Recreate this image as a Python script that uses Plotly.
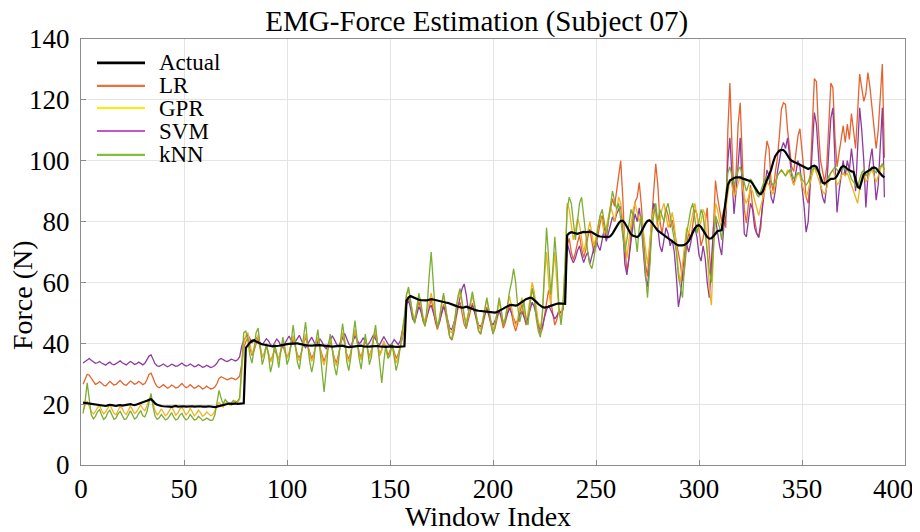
import plotly.graph_objects as go

# ---------------- data ----------------
actual = [
    20.5,20.4,20.3,20.2,20.0,19.8,19.7,19.6,19.5,19.6,
    19.5,19.4,19.6,19.8,19.7,19.5,19.4,19.6,19.7,19.5,
    19.6,19.8,19.9,20.0,19.8,19.7,19.9,20.1,20.3,20.5,
    20.8,21.1,21.4,21.6,21.0,20.2,19.8,19.5,19.4,19.3,
    19.3,19.4,19.2,19.1,19.3,19.4,19.2,19.3,19.4,19.3,
    19.2,19.3,19.4,19.3,19.2,19.3,19.4,19.3,19.2,19.1,
    19.2,19.3,19.2,19.1,19.0,19.2,19.4,19.6,19.8,20.0,
    20.1,20.2,20.1,20.2,20.2,20.1,20.2,20.2,20.3,
    38.5,39.5,40.2,40.8,41.0,40.6,40.2,39.9,39.7,39.5,39.3,
    39.2,39.1,39.0,39.0,39.1,39.2,39.3,39.5,39.6,39.7,
    39.8,39.9,40.0,40.1,40.0,39.8,39.6,39.5,39.4,39.3,
    39.2,39.2,39.3,39.4,39.5,39.4,39.3,39.2,39.0,38.9,
    38.8,38.9,39.0,39.1,39.2,39.3,39.2,39.0,38.8,38.7,
    38.8,38.9,39.1,39.2,39.3,39.2,39.0,38.9,38.8,38.9,
    39.0,39.1,39.2,39.1,39.0,38.9,38.8,38.8,38.9,39.0,
    39.0,38.9,38.8,38.8,38.9,38.9,39.0,
    54.0,55.0,55.5,55.2,54.8,54.5,54.3,54.2,54.1,54.0,54.1,54.3,54.5,
    54.4,54.2,54.0,53.8,53.6,53.5,53.4,53.3,53.1,52.9,
    52.6,52.3,52.0,51.8,51.7,51.8,52.0,51.8,51.5,51.2,
    51.0,50.8,50.7,50.6,50.5,50.4,50.3,50.2,50.1,50.0,
    50.1,50.3,50.6,51.0,51.4,51.8,52.2,52.5,52.6,52.5,
    52.4,52.6,53.0,53.5,54.0,54.5,54.8,55.0,54.8,54.3,
    53.6,52.9,52.3,51.9,51.7,51.8,52.0,52.3,52.6,52.8,
    53.0,53.1,53.0,52.9,53.0,
    75.5,76.2,76.5,76.4,76.2,76.0,76.2,76.4,76.6,76.5,76.6,76.7,76.5,76.0,75.6,
    75.3,75.1,75.0,74.9,74.8,74.9,75.2,76.0,77.2,78.5,
    79.5,80.2,80.3,79.5,78.2,76.8,75.8,75.3,75.0,74.9,
    75.4,76.5,78.0,79.3,80.2,80.4,79.8,78.8,77.8,77.0,
    76.5,76.0,75.4,74.8,74.3,74.0,73.6,73.0,72.5,72.2,
    72.1,72.2,72.4,72.8,73.6,75.0,76.5,77.8,78.6,78.8,
    78.2,77.0,75.8,74.9,74.4,74.5,75.2,76.2,76.9,77.0,77.2,
    82.0,88.0,92.0,93.5,94.0,94.3,94.5,94.6,94.5,
    94.2,94.0,93.8,93.5,93.3,92.5,91.5,90.2,89.3,89.0,
    90.0,92.0,93.5,95.0,97.0,99.5,101.5,102.5,103.3,103.6,
    103.5,102.8,101.5,100.6,100.0,99.6,99.3,99.0,98.7,98.3,
    97.9,97.5,97.3,97.6,98.2,98.4,98.0,96.5,94.5,92.8,
    92.5,93.0,93.7,94.0,94.0,94.2,95.0,96.5,97.8,98.3,
    98.0,97.3,96.8,96.5,96.3,94.0,91.5,91.0,93.5,95.6,
    96.2,96.5,97.0,97.5,97.8,97.5,96.8,95.8,95.0,94.5,
]

lr = [
    26.5,28.0,29.8,29.5,28.5,27.2,26.5,26.8,27.4,26.9,
    26.2,26.0,26.8,27.5,26.9,26.3,26.5,27.2,27.8,27.0,
    26.4,26.2,27.0,27.6,27.1,26.5,26.8,27.5,27.0,26.4,
    26.8,28.0,29.8,30.2,28.6,26.8,25.8,25.4,25.9,26.4,
    25.8,25.2,25.6,26.3,25.9,25.3,25.5,26.2,26.8,26.0,
    25.4,25.7,26.4,25.8,25.2,25.5,26.1,25.6,25.0,25.3,
    25.9,25.4,25.0,25.2,25.6,26.8,28.4,29.0,28.6,28.2,
    28.0,28.3,28.6,28.4,28.0,28.5,29.2,33.0,38.5,
    40.5,41.8,38.5,36.0,37.5,39.8,41.0,38.2,35.5,36.8,38.9,
    36.5,34.2,35.8,38.0,36.2,35.0,37.4,39.5,37.0,35.3,
    36.8,39.2,41.5,39.0,36.4,35.2,37.0,39.8,42.0,39.4,
    36.8,35.0,36.6,39.0,41.2,38.5,35.8,34.0,36.2,38.8,
    40.6,38.0,35.2,33.5,36.0,39.4,42.5,40.0,36.5,34.8,
    37.2,40.5,43.8,40.6,37.0,35.4,38.2,41.0,38.4,35.6,
    37.8,41.2,43.0,39.5,36.2,38.0,40.4,38.2,36.0,37.5,
    39.8,37.2,35.0,36.5,38.8,41.5,45.0,
    52.5,55.5,53.0,49.0,47.5,50.5,53.8,51.0,47.2,45.8,48.5,52.0,54.5,
    51.2,47.0,44.5,46.8,50.2,52.8,49.5,45.0,42.0,41.0,
    43.5,47.8,51.5,53.5,50.0,46.2,44.8,47.5,51.0,53.2,
    50.5,47.0,44.2,43.0,45.8,49.5,52.0,49.0,45.5,43.2,
    45.0,48.5,51.0,48.2,45.0,46.8,50.5,53.0,49.8,46.2,
    44.0,46.5,50.2,52.8,49.5,46.0,48.5,53.5,58.0,55.0,
    49.5,45.5,43.0,44.8,49.0,53.5,57.5,54.0,49.5,46.0,
    47.8,51.0,50.0,52.0,55.0,
    72.0,74.5,70.0,67.5,69.8,73.0,75.5,71.0,68.2,70.5,
    74.8,77.5,73.0,69.5,71.8,76.0,79.5,82.0,78.5,74.0,
    80.5,84.0,87.5,85.0,90.0,95.5,100.0,88.0,72.0,63.5,
    68.0,76.5,82.0,86.5,88.0,92.8,85.5,76.0,66.0,62.0,
    70.5,82.0,90.5,99.0,92.0,80.5,76.0,80.0,84.5,82.0,
    78.0,80.5,77.0,74.0,70.5,66.0,60.5,64.5,72.0,76.5,
    74.0,78.5,84.0,82.5,76.5,72.0,74.5,80.0,84.5,70.0,
    62.0,78.0,93.5,88.0,84.0,80.0,
    84.0,78.0,110.0,125.5,105.0,89.0,96.0,112.0,119.0,100.0,
    84.0,79.5,86.0,92.0,85.0,80.0,76.5,74.8,78.0,88.0,
    100.0,106.5,104.0,93.0,90.0,96.0,100.5,108.0,117.0,119.0,
    118.5,110.0,104.0,98.0,96.5,102.0,108.0,110.5,104.0,96.0,
    88.0,86.0,95.0,112.0,127.0,126.0,110.0,100.0,96.0,93.0,
    98.0,112.0,125.5,124.0,108.0,98.0,103.0,108.0,111.5,106.0,
    112.0,107.0,115.5,110.0,104.0,116.0,128.5,124.0,119.5,122.0,
    129.0,124.0,116.5,111.0,104.0,110.0,122.0,131.8,101.0,
]

gpr = [
    18.0,19.5,21.0,19.2,17.5,16.8,17.6,18.8,19.5,18.0,
    16.8,17.5,18.6,19.8,18.4,17.0,16.5,17.8,19.2,18.6,
    17.2,16.6,17.9,19.4,18.2,16.9,17.5,18.8,19.8,18.5,
    17.8,19.5,21.5,22.5,20.0,17.8,16.5,17.2,18.5,17.4,
    16.2,16.8,18.2,19.2,17.8,16.4,17.0,18.4,19.0,17.6,
    16.5,17.2,18.6,17.5,16.2,16.8,18.0,17.2,16.0,16.5,
    17.4,16.8,16.2,16.6,17.8,19.5,20.5,19.8,19.0,20.2,
    20.8,20.2,19.6,20.5,21.0,20.6,21.5,30.0,40.0,
    42.5,43.5,40.0,36.5,38.5,41.0,42.8,39.0,35.2,36.8,39.5,
    37.0,33.8,35.5,39.0,36.8,34.5,37.8,40.5,38.0,35.0,
    36.5,40.2,42.5,39.5,35.8,34.2,37.5,40.8,43.0,39.8,
    36.2,34.0,36.0,39.8,42.0,38.6,35.0,32.8,35.8,39.2,
    41.5,38.2,34.5,32.5,35.5,40.0,43.5,40.8,36.0,33.8,
    36.8,41.0,44.5,41.0,36.5,34.5,38.0,41.8,38.6,35.0,
    37.5,41.8,44.0,40.0,35.8,37.6,40.8,38.0,35.2,36.8,
    39.5,36.5,33.5,35.5,38.5,42.5,47.0,
    56.0,57.5,54.0,50.0,48.0,51.5,55.5,53.0,49.0,47.0,50.5,54.0,56.5,
    53.0,48.5,46.0,48.5,52.5,55.5,52.0,47.0,44.0,43.5,
    46.0,50.5,54.5,57.0,53.5,49.0,47.0,50.0,53.5,55.5,
    52.5,48.5,45.5,44.5,47.5,51.5,54.5,51.0,47.0,44.5,
    46.5,50.5,53.5,50.5,46.5,48.5,52.5,55.5,52.0,48.0,
    45.5,48.0,52.0,55.0,51.5,47.5,50.0,55.5,60.0,57.0,
    51.0,47.0,45.0,50.0,62.0,70.0,60.0,52.0,62.0,70.0,
    60.0,50.0,48.0,54.0,66.0,
    86.0,84.0,78.0,74.0,77.0,81.0,79.0,74.0,70.0,73.0,
    77.0,80.0,76.0,72.0,75.0,79.0,82.0,80.0,76.0,78.0,
    82.0,85.0,83.0,80.0,84.0,88.0,86.0,80.0,72.0,68.0,
    74.0,80.0,84.0,86.0,83.0,80.0,82.0,76.0,70.0,66.0,
    72.0,80.0,84.0,82.0,78.0,80.0,84.0,86.0,82.0,78.0,
    80.0,83.0,79.0,72.0,64.0,60.0,66.0,74.0,78.0,76.0,
    79.0,83.0,86.0,82.0,78.0,80.0,84.0,82.0,70.0,58.0,
    52.5,70.0,86.0,84.0,80.0,78.0,
    80.0,84.0,90.0,94.0,92.0,88.0,90.0,93.0,95.0,92.0,
    88.0,86.0,88.0,91.0,90.0,87.0,84.0,82.0,85.0,88.0,
    91.0,93.0,92.0,90.0,89.0,92.0,95.0,96.0,97.0,96.0,
    95.0,97.0,96.0,94.0,92.0,94.0,96.0,95.0,92.0,90.0,
    88.0,90.0,93.0,96.0,98.0,96.0,94.0,92.0,90.0,89.0,
    91.0,94.0,96.0,97.0,95.0,92.0,93.0,95.0,96.0,95.0,
    96.0,94.0,92.0,90.0,88.0,86.0,91.0,95.0,96.0,93.0,
    94.0,96.0,97.0,95.0,93.0,95.0,97.0,99.0,96.0,
]

svm = [
    33.5,34.0,34.6,35.0,34.4,33.8,33.4,33.6,34.0,33.5,
    33.0,32.8,33.4,33.8,33.2,32.9,33.3,33.9,34.2,33.6,
    33.1,32.9,33.5,34.0,33.6,33.0,33.3,33.8,33.4,32.9,
    33.4,34.5,35.8,36.2,34.8,33.2,32.6,32.4,32.8,33.2,
    32.7,32.3,32.6,33.1,32.8,32.4,32.6,33.1,33.5,32.9,
    32.5,32.7,33.2,32.8,32.3,32.5,33.0,32.6,32.1,32.3,
    32.8,32.4,32.0,32.3,32.7,33.5,34.6,35.0,34.5,34.2,
    34.0,34.4,34.8,34.5,34.2,34.6,35.5,39.0,41.0,
    42.0,42.8,41.5,40.2,40.8,41.8,41.2,40.0,39.5,40.6,41.5,
    40.8,39.6,39.0,40.2,41.4,40.6,39.2,38.8,40.0,41.2,
    42.4,41.0,39.8,40.5,41.8,42.6,41.0,39.5,38.6,39.8,
    41.2,42.0,40.6,39.4,40.2,41.5,40.4,39.0,38.2,39.6,
    41.0,42.5,41.2,39.8,39.0,40.4,42.0,43.2,41.5,39.8,
    39.0,40.6,42.4,41.2,39.8,40.5,41.8,40.6,39.4,40.2,
    41.6,42.8,41.4,40.0,39.6,41.0,42.2,41.0,39.8,39.2,
    40.0,41.2,40.4,39.6,40.8,44.0,47.5,
    53.0,54.0,51.5,48.0,47.0,49.5,52.0,50.5,48.0,47.0,49.0,51.5,52.5,
    50.0,47.5,45.5,47.0,50.0,52.0,50.5,47.5,45.0,44.5,
    46.5,49.0,52.0,55.5,58.0,59.5,56.0,51.0,51.5,52.5,
    50.5,48.0,46.0,45.5,47.0,49.5,51.0,49.5,47.0,46.0,
    47.5,49.5,50.5,49.0,47.0,47.8,50.0,51.5,50.0,48.0,
    46.5,47.5,49.5,50.5,49.0,47.0,48.5,51.0,53.5,52.0,
    49.0,46.5,44.5,45.5,48.5,51.0,52.5,51.0,49.0,48.0,
    49.0,50.5,50.0,51.0,60.0,
    73.0,70.5,68.0,66.5,68.0,70.5,72.0,69.0,66.5,68.5,
    70.0,66.0,68.5,71.5,74.0,72.0,70.5,74.0,77.5,73.5,
    76.0,79.0,81.5,80.0,82.5,84.0,85.0,78.0,66.0,62.5,
    68.0,74.0,79.0,82.5,80.0,84.5,79.0,70.0,62.0,58.5,
    66.0,78.0,86.0,84.0,77.0,72.0,70.0,74.5,78.0,76.0,
    72.0,74.0,70.0,62.0,52.0,56.0,64.0,70.0,72.5,70.0,
    73.0,77.0,78.0,75.0,69.0,67.0,72.0,68.0,60.0,55.0,
    66.0,78.0,81.0,76.0,72.0,69.0,
    78.0,82.0,100.0,107.5,95.0,82.5,90.0,100.0,107.5,90.0,
    76.0,75.0,80.0,86.0,84.0,78.0,76.0,74.8,80.0,86.0,
    90.0,97.0,95.0,88.0,86.0,90.0,96.0,100.0,104.0,106.0,
    104.0,107.5,101.0,95.0,92.0,96.0,100.0,98.0,92.0,85.0,
    76.5,80.0,92.0,105.0,115.8,112.0,100.0,92.0,88.0,86.0,
    92.0,104.0,114.0,117.4,100.0,83.0,90.0,96.0,100.0,95.0,
    100.0,97.0,104.0,98.0,90.0,104.0,117.4,110.0,100.0,84.6,
    95.0,100.0,104.0,96.0,87.0,92.0,104.0,117.4,88.0,
]

knn = [
    17.0,21.0,27.0,22.0,16.5,15.2,16.0,17.5,18.2,16.4,
    15.0,15.6,17.2,18.0,16.2,15.0,15.4,16.8,17.6,16.0,
    15.0,15.2,16.6,17.8,16.5,15.1,15.6,17.0,17.8,16.2,
    15.8,17.5,20.5,23.5,19.0,16.0,15.0,15.5,16.6,15.6,
    14.8,15.2,16.4,17.2,15.8,14.8,15.2,16.4,17.0,15.6,
    14.8,15.3,16.6,15.8,14.8,15.0,16.0,15.4,14.6,14.9,
    15.4,15.0,14.6,14.8,16.5,20.5,24.5,22.0,20.0,21.5,
    20.5,19.8,20.5,21.2,20.6,21.0,22.0,34.0,43.5,
    44.0,41.0,36.0,33.5,38.0,43.5,45.0,39.0,33.0,35.5,40.0,
    36.0,30.5,33.5,40.0,36.5,32.0,37.5,42.0,38.5,33.0,
    35.0,41.5,46.0,40.0,34.0,31.5,37.0,42.5,47.0,40.0,
    34.0,30.5,34.0,40.5,44.5,38.0,31.0,24.0,31.0,39.0,
    43.0,38.0,32.5,29.5,34.0,41.0,46.5,41.0,34.0,31.0,
    35.5,42.0,47.5,41.5,35.0,31.5,37.0,43.0,38.5,33.0,
    35.5,42.0,46.0,39.5,33.5,27.0,34.0,39.5,35.0,36.0,
    40.0,35.0,31.0,34.0,39.0,44.0,49.0,
    56.0,58.5,54.0,49.0,46.5,51.0,56.5,53.0,48.0,45.5,52.0,62.0,70.0,
    60.0,50.0,45.0,47.5,53.0,56.5,52.0,46.0,42.0,41.5,
    45.0,51.0,55.5,58.0,53.5,48.0,45.0,49.5,54.0,57.0,
    53.0,47.5,44.0,43.0,46.5,51.0,55.0,50.5,46.0,43.0,
    45.5,50.5,55.0,51.0,46.0,48.0,53.0,57.0,60.0,64.5,
    60.0,52.0,47.0,50.0,54.0,48.0,46.0,53.0,58.0,55.0,
    48.0,44.0,42.0,50.0,66.0,78.0,68.0,56.0,64.0,75.0,
    66.0,52.0,46.0,52.0,66.0,
    84.0,88.0,86.0,80.0,74.0,80.0,86.0,88.0,82.0,75.0,
    70.0,66.0,64.5,68.0,74.0,78.0,82.0,84.0,80.0,76.0,
    80.0,86.0,90.0,87.0,84.0,86.0,80.0,74.0,70.0,74.0,
    80.0,84.0,82.0,76.0,70.0,78.0,82.0,72.0,62.0,55.0,
    64.0,76.0,82.0,86.0,80.0,84.0,82.0,80.0,84.0,86.0,
    82.0,78.0,75.0,70.0,62.0,58.0,55.0,66.0,76.0,80.0,
    84.0,86.0,80.0,76.0,80.0,84.0,82.0,76.0,68.0,64.0,
    60.0,72.0,82.0,80.0,78.0,74.0,
    82.0,88.0,96.0,98.0,95.0,92.0,94.0,97.0,98.0,95.0,
    92.0,90.0,92.0,94.0,93.0,91.0,89.0,88.0,90.0,92.0,
    94.0,95.0,94.0,93.0,92.0,93.0,95.0,96.0,97.0,96.0,
    95.0,96.0,97.0,96.0,94.0,95.0,96.0,96.0,94.0,93.0,
    92.0,93.0,95.0,97.0,98.0,97.0,96.0,94.0,93.0,92.0,
    93.0,95.0,96.0,97.0,98.0,97.0,96.0,97.0,98.0,97.0,
    97.0,96.0,94.0,93.0,92.0,91.0,94.0,96.0,97.0,95.0,
    96.0,97.0,98.0,97.0,96.0,97.0,98.0,99.0,97.0,
]

names = ["Actual", "LR", "GPR", "SVM", "kNN"]
x_ticks = [0, 50, 100, 150, 200, 250, 300, 350, 400]
y_ticks = [0, 20, 40, 60, 80, 100, 120, 140]

# ---------------- styling ----------------
FONT = "Liberation Serif"
plot_colors = {"Actual": "#000000", "LR": "#E4632F", "GPR": "#EDB320",
               "SVM": "#8E3A9E", "kNN": "#7BAE33"}
legend_colors = {"Actual": "#000000", "LR": "#E8703C", "GPR": "#F4F000",
                 "SVM": "#C455C4", "kNN": "#84BE3A"}
widths = {"Actual": 2.2, "LR": 1.3, "GPR": 1.3, "SVM": 1.3, "kNN": 1.3}

series = {"Actual": actual, "LR": lr, "GPR": gpr, "SVM": svm, "kNN": knn}

fig = go.Figure()

# data traces (drawing order: Actual on top)
for nm in ["LR", "SVM", "GPR", "kNN", "Actual"]:
    ys = series[nm]
    fig.add_trace(go.Scatter(
        x=list(range(1, len(ys) + 1)), y=ys, mode="lines", name=nm,
        line=dict(color=plot_colors[nm], width=widths[nm]),
        showlegend=False))

# ---- legend drawn manually (compact MATLAB-like spacing) ----
shapes = [dict(type="rect", xref="paper", yref="paper", x0=0.006, x1=0.172,
               y0=0.685, y1=0.979, fillcolor="white", line=dict(width=0),
               layer="between")]
annotations = []
leg_y = [0.944, 0.890, 0.838, 0.784, 0.728]
for nm, yy in zip(names, leg_y):
    shapes.append(dict(type="line", xref="paper", yref="paper",
                       x0=0.0194, x1=0.0777, y0=yy, y1=yy,
                       line=dict(color=legend_colors[nm],
                                 width=2.6 if nm == "Actual" else 2.2),
                       layer="above"))
    annotations.append(dict(text=nm, xref="paper", yref="paper", x=0.0922, y=yy,
                            xanchor="left", yanchor="middle", showarrow=False,
                            font=dict(family=FONT, size=23, color="#000000")))

# last x tick label drawn as an annotation, nudged left so it fits in the page
annotations.append(dict(text=str(x_ticks[-1]), xref="x", yref="paper",
                        x=x_ticks[-1], y=-0.0563, xanchor="right", xshift=11,
                        yanchor="middle", showarrow=False,
                        font=dict(family=FONT, size=27, color="#000000")))

annotations += [
    dict(text="Window Index", xref="paper", yref="paper", x=0.494, y=-0.121,
         xanchor="center", yanchor="middle", showarrow=False,
         font=dict(family=FONT, size=28, color="#000000")),
    dict(text="Force (N)", xref="paper", yref="paper", x=-0.0716, y=0.399,
         xanchor="center", yanchor="middle", showarrow=False, textangle=-90,
         font=dict(family=FONT, size=28, color="#000000")),
]

axis_common = dict(
    showgrid=True, gridcolor="#E4E4E4", gridwidth=1,
    zeroline=False, showline=True, linecolor="#8C8C8C", linewidth=1,
    mirror=True, ticks="inside", ticklen=5, tickcolor="#8C8C8C",
    tickfont=dict(family=FONT, size=27, color="#000000"),
    automargin=False,
)

x_ticktext = [str(v) for v in x_ticks[:-1]] + [""]

# the page body adds an 8px offset, so the figure is 8px smaller on each axis
fig.update_layout(
    width=912, height=524,
    margin=dict(l=73, r=15, t=31, b=67),
    paper_bgcolor="white", plot_bgcolor="white",
    title=dict(text="EMG-Force Estimation (Subject 07)", x=0.514, xanchor="center",
               y=0.975, yanchor="middle",
               font=dict(family=FONT, size=29, color="#000000")),
    xaxis=dict(range=[0, 400], tickvals=x_ticks, ticktext=x_ticktext, **axis_common),
    yaxis=dict(range=[0, 140], tickvals=y_ticks, ticklabelstandoff=5, **axis_common),
    showlegend=False,
    shapes=shapes,
    annotations=annotations,
)

fig.write_html("out.html")
